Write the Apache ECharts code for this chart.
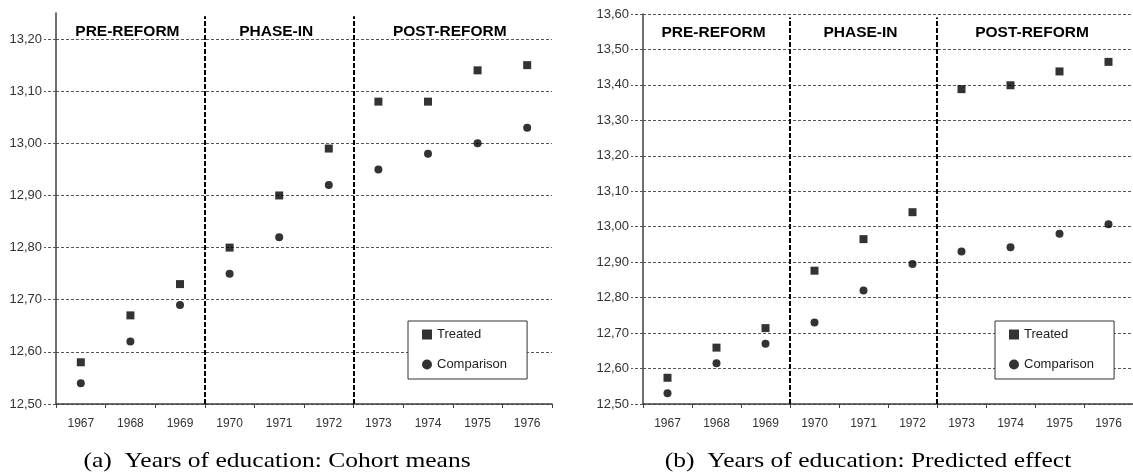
<!DOCTYPE html>
<html>
<head>
<meta charset="utf-8">
<script src="https://cdn.jsdelivr.net/npm/echarts@6/dist/echarts.min.js"></script>
<style>
html,body{margin:0;padding:0;background:#fff;}
#chart{width:1133px;height:476px;}
</style>
</head>
<body>
<div id="chart"></div>
<script>
const years = ['1967','1968','1969','1970','1971','1972','1973','1974','1975','1976'];
const treatedA = [12.58, 12.67, 12.73, 12.80, 12.90, 12.99, 13.08, 13.08, 13.14, 13.15];
const comparisonA = [12.54, 12.62, 12.69, 12.75, 12.82, 12.92, 12.95, 12.98, 13.00, 13.03];
const treatedB = [12.574, 12.659, 12.714, 12.876, 12.965, 13.041, 13.388, 13.399, 13.438, 13.465];
const comparisonB = [12.530, 12.615, 12.670, 12.730, 12.820, 12.895, 12.930, 12.942, 12.980, 13.007];
const ticksA = [12.5, 12.6, 12.7, 12.8, 12.9, 13.0, 13.1, 13.2];
const ticksB = [12.5, 12.6, 12.7, 12.8, 12.9, 13.0, 13.1, 13.2, 13.3, 13.4, 13.5, 13.6];
const sectionNames = ['PRE-REFORM', 'PHASE-IN', 'POST-REFORM'];
const sectionBounds = [[0, 3], [3, 6], [6, 10]];
const dividers = [3, 6];
const captions = ['(a)  Years of education: Cohort means', '(b)  Years of education: Predicted effect'];

const fmt = v => v.toFixed(2).replace('.', ',');
const axisColor = '#404040';

function yAxisDef(gridIndex, ticks, max) {
  return {
    type: 'value', gridIndex: gridIndex, min: 12.5, max: max, interval: 0.1,
    axisLine: {show: true, lineStyle: {color: axisColor, width: 1.5}},
    axisTick: {show: true, length: 12, customValues: ticks, lineStyle: {color: '#555', type: [3, 2]}},
    axisLabel: {customValues: ticks, formatter: fmt, color: '#333', fontSize: 13, fontFamily: 'Liberation Sans', margin: 14},
    splitLine: {show: true, lineStyle: {color: '#555', type: [3, 2], width: 1}}
  };
}
function xCatDef(gridIndex) {
  return {
    type: 'category', gridIndex: gridIndex, data: years, boundaryGap: true,
    axisLine: {show: true, lineStyle: {color: axisColor, width: 1.5}},
    axisTick: {show: true, length: 4, lineStyle: {color: axisColor}},
    axisLabel: {color: '#333', fontSize: 12, fontFamily: 'Liberation Sans', margin: 14},
    splitLine: {show: false}
  };
}
function xValDef(gridIndex) {
  return {type: 'value', gridIndex: gridIndex, min: 0, max: years.length, show: false, splitLine: {show: false}};
}
function overlaySeries(xIdx, yIdx, topVal) {
  return {
    type: 'scatter', xAxisIndex: xIdx, yAxisIndex: yIdx, data: [], silent: true,
    markLine: {
      symbol: 'none', silent: true, animation: false,
      label: {show: false},
      lineStyle: {color: '#000', type: [5, 2], width: 2},
      data: dividers.map(d => [{coord: [d, 12.5]}, {coord: [d, topVal]}])
    },
    markArea: {
      silent: true, animation: false,
      itemStyle: {color: 'rgba(0,0,0,0)'},
      label: {show: true, position: 'insideTop', distance: 11, offset: [-3, 0], color: '#000', fontSize: 15.5, fontWeight: 'bold', fontFamily: 'Liberation Sans'},
      data: sectionNames.map((n, i) => [{name: n, xAxis: sectionBounds[i][0]}, {xAxis: sectionBounds[i][1]}])
    }
  };
}
function dataSeries(name, symbol, data, xIdx, yIdx) {
  return {
    name: name, type: 'scatter', xAxisIndex: xIdx, yAxisIndex: yIdx, data: data,
    symbol: symbol, symbolSize: 8, itemStyle: {color: '#000'}, z: 5
  };
}
function legendDef(left) {
  return {
    orient: 'vertical', left: left, top: 321,
    padding: [7, 20, 8, 14], itemGap: 17, itemWidth: 10, itemHeight: 10,
    borderColor: '#333', borderWidth: 1, backgroundColor: '#fff',
    textStyle: {color: '#222', fontSize: 13, fontFamily: 'Liberation Sans'},
    data: [{name: 'Treated', icon: 'rect'}, {name: 'Comparison', icon: 'circle'}]
  };
}
function captionDef(x, text) {
  return {type: 'text', x: x, y: 461, scaleX: 1.16,
    style: {text: text, fill: '#000', font: '22px "Liberation Serif"', align: 'center', verticalAlign: 'middle'}};
}

const chart = echarts.init(document.getElementById('chart'), null, {renderer: 'canvas'});
chart.setOption({
  animation: false,
  grid: [
    {left: 56, top: 13, right: 581, bottom: 72},
    {left: 643, top: 14, right: -7, bottom: 72}
  ],
  xAxis: [xCatDef(0), xCatDef(1), xValDef(0), xValDef(1)],
  yAxis: [yAxisDef(0, ticksA, 13.25), yAxisDef(1, ticksB, 13.6)],
  legend: [legendDef(408), legendDef(995)],
  series: [
    overlaySeries(2, 0, 13.244),
    overlaySeries(3, 1, 13.59),
    dataSeries('Treated', 'rect', treatedA, 0, 0),
    dataSeries('Comparison', 'circle', comparisonA, 0, 0),
    dataSeries('Treated', 'rect', treatedB, 1, 1),
    dataSeries('Comparison', 'circle', comparisonB, 1, 1)
  ],
  graphic: [captionDef(277, captions[0]), captionDef(868, captions[1])]
});
</script>
</body>
</html>
